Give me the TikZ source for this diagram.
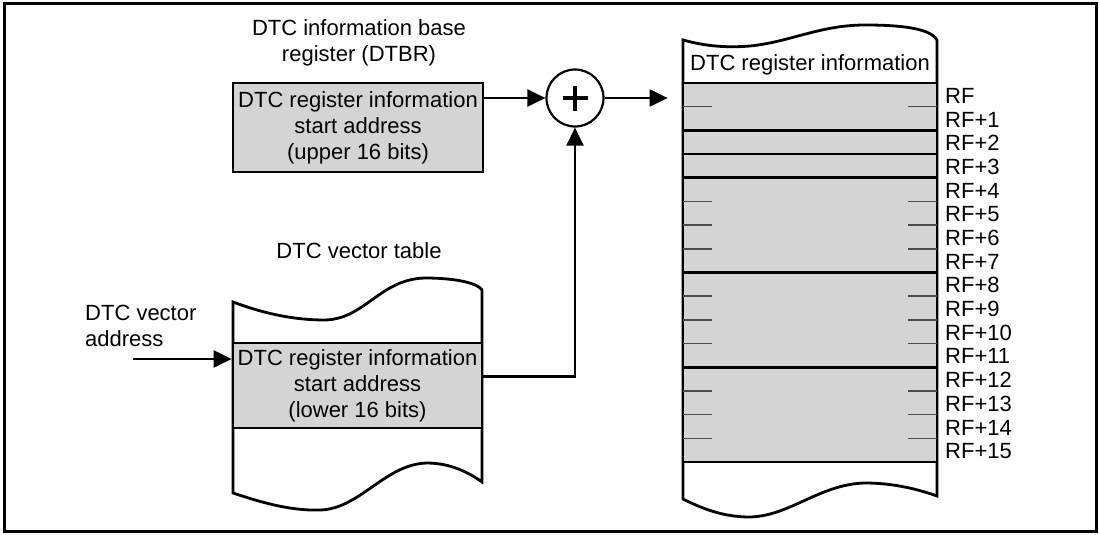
\documentclass[tikz,border=0pt]{standalone}
\usepackage{fontspec}
\setmainfont{Liberation Sans}
\usetikzlibrary{arrows.meta}
\definecolor{cellgray}{RGB}{212,212,212}
\begin{document}
\begin{tikzpicture}[x=1pt,y=-1pt,
  font=\fontsize{22}{26}\selectfont,
  outline/.style={line width=2.8pt},
  regbox/.style={draw, outline, fill=cellgray, inner sep=0pt, align=center},
  arr/.style={line width=2.2pt, -{Triangle[length=18pt,width=17pt]}},
  tickmark/.style={line width=1.4pt, black!70},
  lbl/.style={inner sep=0pt, align=center},
  ]
\useasboundingbox (0,0) rectangle (1100,535);
% outer frame
\draw[line width=3pt] (4,4) rectangle (1096,531);

% ---------- DTBR ----------
\node[lbl] (dtbrtitle) at (359,43) {DTC information base\\register (DTBR)};
\node[regbox, minimum width=250pt, minimum height=89pt] (dtbr) at (358,127.5)
  {DTC register information\\start address\\(upper 16 bits)};

% ---------- adder ----------
\node[circle, draw, line width=2.2pt, minimum size=57pt, inner sep=0pt] (sum) at (575,98) {};
\draw[line width=4pt] ([xshift=-12.5pt]sum.center) -- ([xshift=12.5pt]sum.center);
\draw[line width=4pt] ([yshift=-12.5pt]sum.center) -- ([yshift=12.5pt]sum.center);

% ---------- DTC vector table ----------
\node[lbl] (vtitle) at (359,251) {DTC vector table};
\draw[outline, fill=white]
  (233,302) .. controls (260,312) and (290,320) .. (325,320)
            .. controls (365,319) and (380,279) .. (425,278)
            .. controls (455,278) and (478,283) .. (482,290)
  -- (482,482)
            .. controls (475,477) and (455,463) .. (427,463)
            .. controls (385,464) and (360,509) .. (320,510)
            .. controls (290,511) and (260,502) .. (233,493)
  -- cycle;
\node[regbox, minimum width=249pt, minimum height=85pt] (vec) at (357.5,385.5)
  {DTC register information\\start address\\(lower 16 bits)};

\node[inner sep=0pt, align=left, anchor=west] (vaddr) at (85,325.5) {DTC vector\\address};
\coordinate (vin) at (133,359);
\draw[arr] (vin) -- (vin -| vec.west);

% ---------- DTC register information ----------
\draw[outline, fill=white]
  (683,40) .. controls (705,46) and (725,48) .. (750,46)
           .. controls (790,42) and (820,25) .. (865,25)
           .. controls (900,25) and (930,28) .. (937,40)
  -- (937,496)
           .. controls (920,490) and (895,483) .. (865,483)
           .. controls (820,484) and (790,516) .. (750,517)
           .. controls (725,517) and (705,510) .. (683,499)
  -- cycle;
\node[lbl] (infotitle) at (810,65) {DTC register information};
\node[draw, outline, fill=cellgray, minimum width=254pt, minimum height=379pt, inner sep=0pt]
  (info) at (810,272.5) {};
% thin marks between bytes of one register
\foreach \k in {1,5,6,7,9,10,11,13,14,15} {
  \draw[tickmark] (683,{83+\k*23.6875}) -- (712,{83+\k*23.6875});
  \draw[tickmark] (908,{83+\k*23.6875}) -- (937,{83+\k*23.6875});
}
% register boundaries
\foreach \k in {2,3,4,8,12} {
  \draw[outline] (683,{83+\k*23.6875}) -- (937,{83+\k*23.6875});
}
% byte offsets
\foreach \i in {0,...,15} {
  \node[anchor=west, inner sep=0pt] (rf\i) at (945,{83+(\i+0.5)*23.6875+1})
    {\ifnum\i=0 RF\else RF+\i\fi};
}

% ---------- connectors ----------
\draw[arr] (sum.west -| dtbr.east) -- (sum.west);
\draw[arr, shorten >=14pt] (sum.east) -- (sum.east -| info.west);
\draw[arr] ([yshift=9pt]vec.east) -| (sum.south);
\end{tikzpicture}
\end{document}
